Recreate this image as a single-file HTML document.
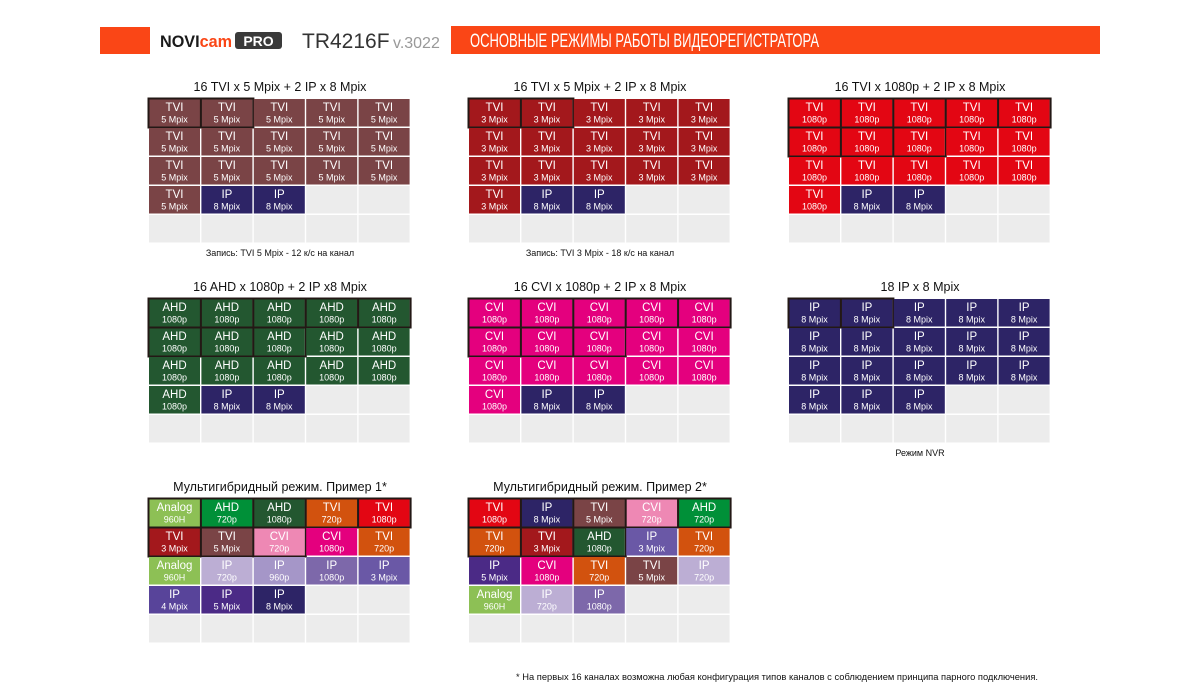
<!DOCTYPE html>
<html><head><meta charset="utf-8"><style>
html,body{margin:0;padding:0;background:#fff;}
svg{display:block;}
text{font-family:"Liberation Sans","DejaVu Sans",sans-serif;}
</style></head><body>
<svg id="s" width="1200" height="700" viewBox="0 0 1200 700" xmlns="http://www.w3.org/2000/svg">
<rect x="100" y="27" width="50" height="27" fill="#fa4616"/>
<g>
<text x="160" y="47" font-size="17" font-weight="bold" fill="#1a1a1a" textLength="72" lengthAdjust="spacingAndGlyphs">NOVI<tspan fill="#fa4616">cam</tspan></text>
<rect x="235" y="32" width="47" height="17" rx="3" fill="#3a3a3a"/>
<text x="258.5" y="46" font-size="14" font-weight="bold" fill="#fff" text-anchor="middle">PRO</text>
</g>
<text x="302" y="48" font-size="21" fill="#333">TR4216F</text>
<text x="393" y="48" font-size="16" fill="#999">v.3022</text>
<rect x="451" y="26" width="649" height="28" fill="#fa4616"/>
<text x="470" y="47" font-size="19" fill="#fff" textLength="349" lengthAdjust="spacingAndGlyphs">ОСНОВНЫЕ РЕЖИМЫ РАБОТЫ ВИДЕОРЕГИСТРАТОРА</text>
<text x="516" y="680" font-size="9.5" fill="#111" textLength="522" lengthAdjust="spacingAndGlyphs">* На первых 16 каналах возможна любая конфигурация типов каналов с соблюдением принципа парного подключения.</text>
</svg>
<script>
const colors = {
 "TVI 5 Mpix":"#7a4446","IP 8 Mpix":"#2d2466","TVI 3 Mpix":"#a3181c","TVI 1080p":"#e30613",
 "AHD 1080p":"#235730","CVI 1080p":"#e4007e","Analog 960H":"#8dc055","AHD 720p":"#009038",
 "TVI 720p":"#d2520e","CVI 720p":"#ee88b4","IP 720p":"#bcaed4","IP 960p":"#a596c8",
 "IP 1080p":"#7d68aa","IP 3 Mpix":"#6a58a6","IP 4 Mpix":"#58449a","IP 5 Mpix":"#4b2a86"
};
const gridTitles = ["16 TVI x 5 Mpix + 2 IP x 8 Mpix","16 TVI x 5 Mpix + 2 IP x 8 Mpix","16 TVI x 1080p + 2 IP x 8 Mpix",
 "16 AHD x 1080p + 2 IP x8 Mpix","16 CVI x 1080p + 2 IP x 8 Mpix","18 IP x 8 Mpix",
 "Мультигибридный режим. Пример 1*","Мультигибридный режим. Пример 2*"];
const gridCaptions = ["Запись: TVI 5 Mpix - 12 к/с на канал","Запись: TVI 3 Mpix - 18 к/с на канал","","","","Режим NVR","",""];
const gridX = [149,469,789,149,469,789,149,469];
const gridY = [99,99,99,299,299,299,499,499];
function rep(v,n){return Array(n).fill(v);}
const gridCells = [
 rep("TVI 5 Mpix",16).concat(["IP 8 Mpix","IP 8 Mpix"]),
 rep("TVI 3 Mpix",16).concat(["IP 8 Mpix","IP 8 Mpix"]),
 rep("TVI 1080p",16).concat(["IP 8 Mpix","IP 8 Mpix"]),
 rep("AHD 1080p",16).concat(["IP 8 Mpix","IP 8 Mpix"]),
 rep("CVI 1080p",16).concat(["IP 8 Mpix","IP 8 Mpix"]),
 rep("IP 8 Mpix",18),
 ["Analog 960H","AHD 720p","AHD 1080p","TVI 720p","TVI 1080p","TVI 3 Mpix","TVI 5 Mpix","CVI 720p","CVI 1080p","TVI 720p",
  "Analog 960H","IP 720p","IP 960p","IP 1080p","IP 3 Mpix","IP 4 Mpix","IP 5 Mpix","IP 8 Mpix"],
 ["TVI 1080p","IP 8 Mpix","TVI 5 Mpix","CVI 720p","AHD 720p","TVI 720p","TVI 3 Mpix","AHD 1080p","IP 3 Mpix","TVI 720p",
  "IP 5 Mpix","CVI 1080p","TVI 720p","TVI 5 Mpix","IP 720p","Analog 960H","IP 720p","IP 1080p"]
];
const gridOutlined = [[0,1],[0,1],[0,1,2,3,4,5,6,7],[0,1,2,3,4,5,6,7],[0,1,2,3,4,5,6,7],[0,1],[0,1,2,3,4,5,6,7],[0,1,2,3,4,5,6,7]];
const NS="http://www.w3.org/2000/svg";
const svg=document.getElementById('s');
function mk(tag,attrs,parent){const e=document.createElementNS(NS,tag);for(const k in attrs)e.setAttribute(k,attrs[k]);(parent||svg).appendChild(e);return e;}
const PW=52.4, PH=29, CW=51, CH=27.5;
gridTitles.forEach((title,g)=>{
  const gx=gridX[g], gy=gridY[g];
  const grp=mk('g',{});
  
  
  const t=mk('text',{x:gx+PW*2.5,y:gy-8,'font-size':12.5,'text-anchor':'middle',fill:'#111'},grp);
  t.textContent=title;
  
  
  for(let i=0;i<25;i++){
    const r=Math.floor(i/5), c=i%5;
    const x=gx+c*PW, y=gy+r*PH;
    const label=gridCells[g][i];
    const cell=mk('g',{},grp);
    
    
    mk('rect',{x:x,y:y,width:CW,height:CH,fill:label?colors[label]:'#ececec'},cell);
    if(label){
      const sp=label.indexOf(' ');
      const a=mk('text',{x:x+CW/2,y:y+12,'font-size':11.5,'text-anchor':'middle',fill:'#fff'},cell);
      a.textContent=label.slice(0,sp);
      const b=mk('text',{x:x+CW/2,y:y+23.5,'font-size':9,'text-anchor':'middle',fill:'#fff'},cell);
      b.textContent=label.slice(sp+1);
    }
    if(gridOutlined[g].includes(i)){
      mk('rect',{x:x-0.5,y:y-0.5,width:CW+1.5,height:CH+1.5,fill:'none',stroke:'#231815','stroke-width':2},cell);
    }
  }
  if(gridCaptions[g]){
    const cp=mk('text',{x:gx+PW*2.5,y:gy+PH*5+12,'font-size':9,'text-anchor':'middle',fill:'#111'},grp);
    cp.textContent=gridCaptions[g];
    
    
  }
});
</script>
</body></html>
